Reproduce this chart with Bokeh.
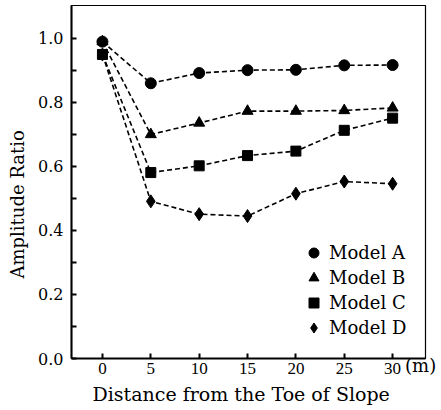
from bokeh.embed import file_html
from bokeh.models import (CustomJSTickFormatter, FixedTicker, Legend,
                          LegendItem, LinearAxis, Range1d, Title)
from bokeh.plotting import figure
from bokeh.resources import INLINE

# Distance from the toe of slope (m)
distance = [0, 5, 10, 15, 20, 25, 30]

# Amplitude ratio per model
model_a = [0.99, 0.86, 0.892, 0.901, 0.902, 0.916, 0.917]
model_b = [0.99, 0.70, 0.736, 0.773, 0.773, 0.775, 0.783]
model_c = [0.95, 0.581, 0.602, 0.634, 0.648, 0.713, 0.751]
model_d = [0.95, 0.491, 0.451, 0.445, 0.515, 0.553, 0.546]

series_names = ["Model A", "Model B", "Model C", "Model D"]
x_ticks = [0, 5, 10, 15, 20, 25, 30]
y_ticks = [0.0, 0.2, 0.4, 0.6, 0.8, 1.0]
y_minor = [0.1, 0.3, 0.5, 0.7, 0.9]
unit_pos = 32.9          # where the "(m)" unit sits along the distance axis

SERIF = "DejaVu Serif"
NUM_FONT = "Liberation Serif"

p = figure(width=441, height=410, output_backend="svg", toolbar_location=None,
           x_range=Range1d(-3.2, 33.4), y_range=Range1d(0.0, 1.103),
           min_border_left=71, min_border_right=16, min_border_top=5,
           min_border_bottom=52)
p.background_fill_color = "white"
p.border_fill_color = "white"
p.grid.visible = False
p.outline_line_color = "black"
p.outline_line_width = 1.2

# axes
xa = p.xaxis[0]
xa.ticker = FixedTicker(ticks=x_ticks)
xa.major_tick_in = 5
xa.major_tick_out = 0
xa.minor_tick_in = 0
xa.minor_tick_out = 0
xa.axis_line_width = 2
xa.major_tick_line_width = 2
xa.major_label_standoff = 4
xa.major_label_text_font = NUM_FONT
xa.major_label_text_font_size = "17px"
xa.major_label_text_color = "black"

# unit label on its own bare axis, pulled up beside the last tick label
unit_axis = LinearAxis(ticker=FixedTicker(ticks=[unit_pos]),
                       major_label_overrides={unit_pos: "(m)"},
                       axis_line_color=None, major_tick_line_color=None,
                       minor_tick_line_color=None, major_tick_in=0,
                       major_tick_out=0, minor_tick_in=0, minor_tick_out=0,
                       major_label_standoff=-22,
                       major_label_text_font=SERIF,
                       major_label_text_font_size="18px",
                       major_label_text_color="black")
p.add_layout(unit_axis, "below")

ya = p.yaxis[0]
ya.ticker = FixedTicker(ticks=y_ticks, minor_ticks=y_minor)
ya.major_tick_in = 5
ya.major_tick_out = 0
ya.minor_tick_in = 5
ya.minor_tick_out = 0
ya.axis_line_width = 2
ya.major_tick_line_width = 2
ya.minor_tick_line_width = 2
ya.major_label_standoff = 8
ya.major_label_text_font = SERIF
ya.major_label_text_font_size = "16px"
ya.major_label_text_color = "black"
ya.formatter = CustomJSTickFormatter(code="return tick.toFixed(1);")

# series: dashed connecting lines with filled markers
markers = ["circle", "triangle", "square", "diamond"]
sizes = [11, 11, 10, 13]
legend_items = []
for name, ys, mk, sz in zip(series_names, [model_a, model_b, model_c, model_d],
                            markers, sizes):
    p.line(distance, ys, line_color="black", line_width=1.6, line_dash="5 3")
    r = p.scatter(distance, ys, marker=mk, size=sz, fill_color="black",
                  line_color="black")
    legend_items.append(LegendItem(label=name, renderers=[r]))

legend = Legend(items=legend_items, location=(229, 18), padding=0, margin=0,
                spacing=0, glyph_width=27, glyph_height=25, label_height=25,
                label_standoff=2, border_line_color=None,
                background_fill_alpha=0, label_text_font=SERIF,
                label_text_font_size="18px", label_text_color="black")
p.add_layout(legend, "center")

# axis titles
p.add_layout(Title(text="Distance from the Toe of Slope", align="left",
                   offset=21, standoff=4, text_font=SERIF,
                   text_font_size="19px", text_font_style="normal",
                   text_color="black"), "below")
p.add_layout(Title(text="Amplitude Ratio", align="left", offset=80,
                   standoff=12, vertical_align="top", text_font=SERIF,
                   text_font_size="18px", text_font_style="normal",
                   text_color="black"), "left")

open("out.html", "w").write(file_html(p, INLINE))
